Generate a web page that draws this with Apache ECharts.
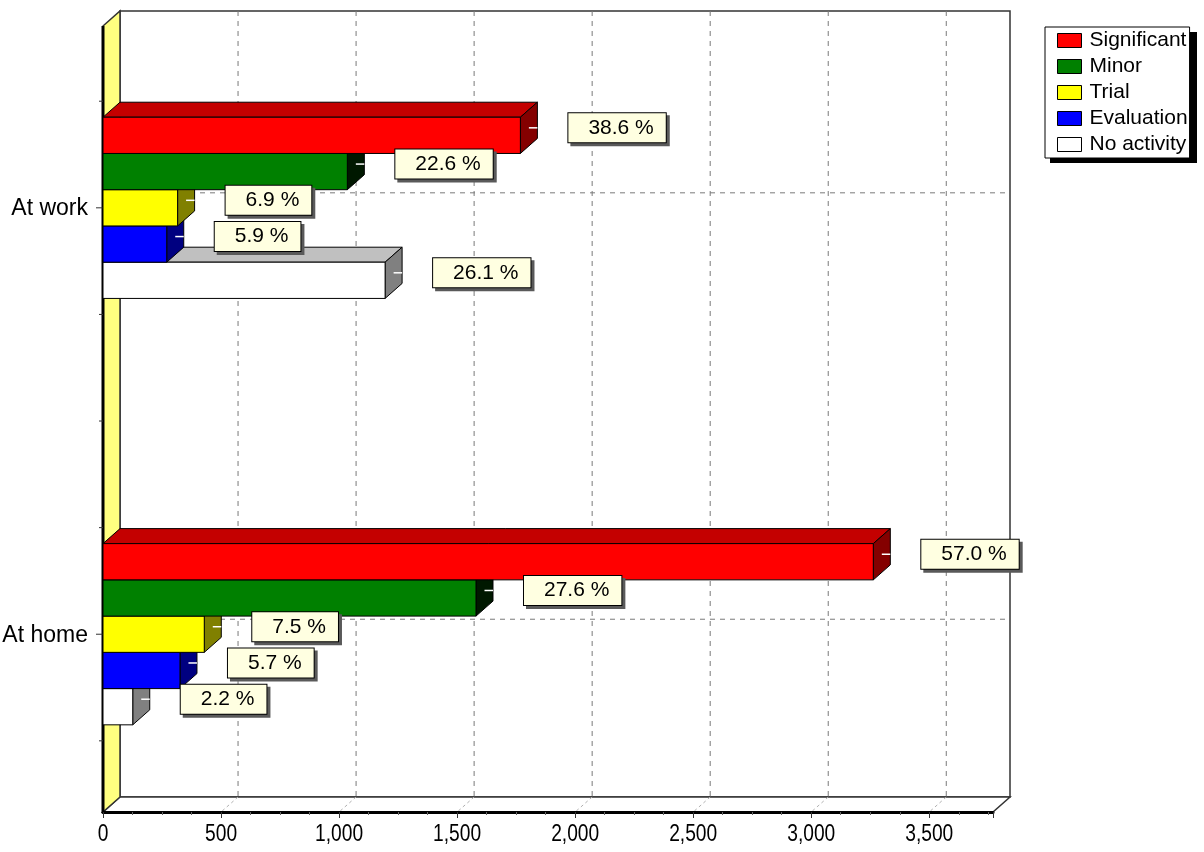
<!DOCTYPE html>
<html>
<head>
<meta charset="utf-8">
<title>Activity by location</title>
<script src="https://cdn.jsdelivr.net/npm/echarts@6/dist/echarts.min.js"></script>
<style>
  html, body { margin: 0; padding: 0; background: #ffffff; }
  #chart { width: 1204px; height: 852px; }
</style>
</head>
<body>
<div id="chart"></div>
<script>
// ---- data ----
const categories = ['At work', 'At home'];
const seriesNames = ['Significant', 'Minor', 'Trial', 'Evaluation', 'No activity'];
const significant = [1768, 3263];
const minor = [1035, 1580];
const trial = [316, 429];
const evaluation = [270, 326];
const noActivity = [1195, 126];
const xTickValues = [0, 500, 1000, 1500, 2000, 2500, 3000, 3500];

const seriesValues = [significant, minor, trial, evaluation, noActivity];

// ---- look ----
const FONT = '"Liberation Sans", Arial, sans-serif';
const palette = [
  { front: '#ff0000', top: '#c40000', side: '#840000' },
  { front: '#008000', top: '#005800', side: '#001800' },
  { front: '#ffff00', top: '#c0c000', side: '#808000' },
  { front: '#0000ff', top: '#0000c0', side: '#000080' },
  { front: '#ffffff', top: '#c0c0c0', side: '#808080' }
];

// ---- layout of the pseudo-3D box ----
const X_MAX = 3770;
const Y_MIN = 0.5736, Y_MAX = 2.4169;   // category slots sit at 1 and 2
const DX = 17, DY = 15;                 // depth offset of the back plane, px
const BAR_UNIT = 0.085;                 // bar thickness in category units

// group totals for the percentage labels
const totals = categories.map((c, i) => seriesValues.reduce((s, arr) => s + arr[i], 0));

// walls, floor, grid lines, axes text
function renderFrame(params, api) {
  const tl = api.coord([0, Y_MIN]);
  const br = api.coord([X_MAX, Y_MAX]);
  const x0 = tl[0], y0 = tl[1], x1 = br[0], y1 = br[1];
  const edge = '#333333';
  const kids = [];

  // back wall
  kids.push({ type: 'rect', shape: { x: x0 + DX, y: y0 - DY, width: x1 - x0, height: y1 - y0 },
    style: { fill: '#ffffff', stroke: edge, lineWidth: 1.5 } });

  // vertical dashed grid on back wall
  xTickValues.slice(1).forEach(t => {
    const x = api.coord([t, Y_MIN])[0] + DX;
    kids.push({ type: 'line', shape: { x1: x, y1: y0 - DY, x2: x, y2: y1 - DY },
      style: { stroke: '#7a7a7a', lineWidth: 1, lineDash: [5, 5] } });
  });
  // horizontal dashed grid at category slots
  categories.forEach((c, i) => {
    const y = api.coord([0, i + 1])[1] - DY;
    kids.push({ type: 'line', shape: { x1: x0 + DX, y1: y, x2: x1 + DX, y2: y },
      style: { stroke: '#7a7a7a', lineWidth: 1, lineDash: [5, 5] } });
  });

  // floor
  kids.push({ type: 'polygon', shape: { points: [[x0, y1], [x0 + DX, y1 - DY], [x1 + DX, y1 - DY], [x1, y1]] },
    style: { fill: '#ffffff', stroke: edge, lineWidth: 1.5 } });
  xTickValues.slice(1).forEach(t => {
    const x = api.coord([t, Y_MIN])[0];
    kids.push({ type: 'line', shape: { x1: x + DX, y1: y1 - DY, x2: x, y2: y1 },
      style: { stroke: '#b0b0b0', lineWidth: 1, lineDash: [3, 3] } });
  });

  // left wall
  kids.push({ type: 'polygon', shape: { points: [[x0, y0], [x0 + DX, y0 - DY], [x0 + DX, y1 - DY], [x0, y1]] },
    style: { fill: '#ffff80', stroke: edge, lineWidth: 1.5 } });

  // front left axis line
  kids.push({ type: 'line', shape: { x1: x0, y1: y0, x2: x0, y2: y1 + 1 },
    style: { stroke: '#000000', lineWidth: 3 } });

  // left ticks every quarter slot
  for (let v = 0.75; v <= 2.2501; v += 0.25) {
    const y = api.coord([0, v])[1];
    const major = Math.abs(v - Math.round(v)) < 1e-6;
    kids.push({ type: 'line', shape: { x1: x0 - (major ? 7 : 4), y1: y, x2: x0, y2: y },
      style: { stroke: '#333333', lineWidth: 1 } });
  }

  // category labels
  categories.forEach((c, i) => {
    const y = api.coord([0, i + 1])[1];
    kids.push({ type: 'text', x: x0 - 15, y: y + 1,
      style: { text: c, font: '23px ' + FONT, fill: '#000000', align: 'right', verticalAlign: 'middle' } });
  });

  // value tick labels, set in a condensed face
  xTickValues.forEach(t => {
    const x = api.coord([t, Y_MIN])[0];
    kids.push({ type: 'text', x: x, y: y1 + 10, scaleX: 0.8,
      style: { text: t.toLocaleString('en-US'), font: '24px ' + FONT, fill: '#000000',
        align: 'center', verticalAlign: 'top' } });
  });

  return { type: 'group', children: kids };
}

// one 3D bar: top face, side face, front face and a small white end mark
function makeBarRenderer(slot) {
  const col = palette[slot];
  return function (params, api) {
    const v = api.value(0), c = api.value(1);
    const base = api.coord([0, c]);
    const end = api.coord([v, c]);
    const bh = BAR_UNIT * api.size([0, 1])[1];
    const yt = base[1] + (slot - 2.5) * bh;
    const xa = base[0], xb = end[0];
    const ym = yt + bh / 2 - DY / 2;
    return {
      type: 'group',
      children: [
        { type: 'polygon', shape: { points: [[xa, yt], [xa + DX, yt - DY], [xb + DX, yt - DY], [xb, yt]] },
          style: { fill: col.top, stroke: '#000000', lineWidth: 1 } },
        { type: 'polygon', shape: { points: [[xb, yt], [xb + DX, yt - DY], [xb + DX, yt + bh - DY], [xb, yt + bh]] },
          style: { fill: col.side, stroke: '#000000', lineWidth: 1 } },
        { type: 'rect', shape: { x: xa, y: yt, width: xb - xa, height: bh },
          style: { fill: col.front, stroke: '#000000', lineWidth: 1 } },
        { type: 'line', shape: { x1: xb + DX / 2, y1: ym, x2: xb + DX, y2: ym },
          style: { stroke: '#ffffff', lineWidth: 1.5 } }
      ]
    };
  };
}

// percentage callouts
function renderLabel(params, api) {
  const v = api.value(0), c = api.value(1), slot = api.value(2), pct = api.value(3);
  const base = api.coord([0, c]);
  const end = api.coord([v, c]);
  const bh = BAR_UNIT * api.size([0, 1])[1];
  const yc = base[1] + (slot - 2) * bh - DY / 2;
  const x = end[0] + 48;
  const text = pct.toFixed(1) + ' %';
  const boxStyle = { text: text, font: '21px ' + FONT, align: 'left', verticalAlign: 'middle',
    padding: [4, 12, 4, 20], borderWidth: 1 };
  return {
    type: 'group',
    children: [
      { type: 'text', x: x + 3, y: yc + 3,
        style: Object.assign({}, boxStyle, { fill: 'rgba(0,0,0,0)', backgroundColor: '#5a5a5a', borderColor: '#5a5a5a' }) },
      { type: 'text', x: x, y: yc,
        style: Object.assign({}, boxStyle, { fill: '#000000', backgroundColor: '#ffffe1', borderColor: '#000000' }) }
    ]
  };
}

const series = [];
series.push({
  type: 'custom', name: 'frame', z: 1, silent: true,
  renderItem: renderFrame, data: [[0, 1]]
});
// draw lower bars first so upper ones cover their top faces
for (let s = seriesNames.length - 1; s >= 0; s--) {
  series.push({
    type: 'custom', name: seriesNames[s], z: 2,
    itemStyle: { color: palette[s].front, borderColor: '#000000', borderWidth: 1 },
    renderItem: makeBarRenderer(s),
    data: categories.map((c, i) => [seriesValues[s][i], i + 1])
  });
}
const labelData = [];
seriesValues.forEach((arr, s) => {
  arr.forEach((v, i) => labelData.push([v, i + 1, s, v / totals[i] * 100]));
});
series.push({ type: 'custom', name: 'labels', z: 4, silent: true, renderItem: renderLabel, data: labelData });

const chart = echarts.init(document.getElementById('chart'), null, { renderer: 'canvas' });
chart.setOption({
  animation: false,
  backgroundColor: '#ffffff',
  grid: { left: 103, right: 211, top: 26, bottom: 40 },
  xAxis: {
    type: 'value', min: 0, max: X_MAX, interval: 500, z: 5,
    axisLine: { show: true, onZero: false, lineStyle: { color: '#000000', width: 3 } },
    axisTick: { show: true, length: 6, lineStyle: { color: '#333333', width: 1 } },
    minorTick: { show: true, splitNumber: 4, length: 3, lineStyle: { color: '#666666', width: 1 } },
    splitLine: { show: false },
    minorSplitLine: { show: false },
    axisLabel: { show: false }
  },
  yAxis: { type: 'value', min: Y_MIN, max: Y_MAX, inverse: true, show: false },
  // drop shadow behind the legend box
  graphic: [{
    type: 'rect', z: 0, silent: true,
    shape: { x: 1050, y: 32, width: 147, height: 131 },
    style: { fill: '#000000' }
  }],
  legend: {
    data: seriesNames, orient: 'vertical', left: 1045, top: 27, z: 10,
    padding: [3, 2, 3, 12], itemGap: 5, itemWidth: 24, itemHeight: 14, icon: 'rect',
    backgroundColor: '#ffffff', borderColor: '#000000', borderWidth: 1,
    selectedMode: false,
    itemStyle: { borderColor: '#000000', borderWidth: 1 },
    textStyle: { fontFamily: FONT, fontSize: 21, color: '#000000', padding: [0, 0, 0, 3] }
  },
  series: series
});
</script>
</body>
</html>
